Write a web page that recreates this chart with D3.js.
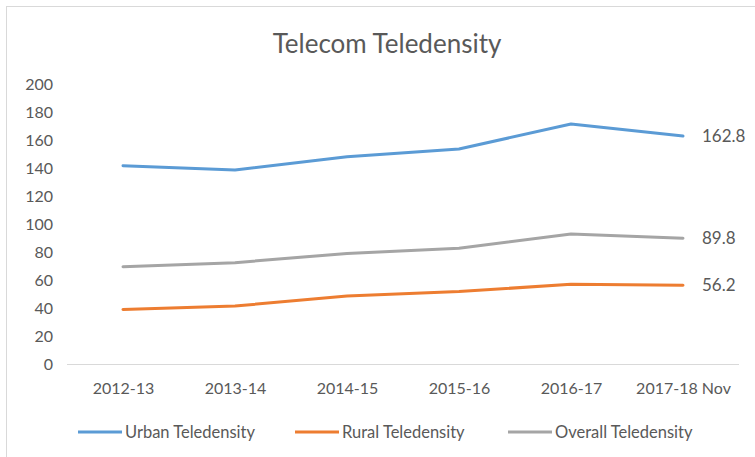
<!DOCTYPE html>
<html><head><meta charset="utf-8">
<script src="https://cdn.jsdelivr.net/npm/d3@7"></script>
<style>body{margin:0;background:#fff;} svg{display:block;font-family:Lato, "Open Sans", sans-serif;}</style>
</head><body><svg id="c" width="755" height="457"></svg>
<script>
const categories = ["2012-13","2013-14","2014-15","2015-16","2016-17","2017-18 Nov"];
const urban = [141.6,138.6,148.0,153.6,171.4,162.8];
const rural = [39.0,41.4,48.6,51.7,57.0,56.2];
const overall = [69.5,72.4,79.0,82.6,92.9,89.8];
const yTicks = [0,20,40,60,80,100,120,140,160,180,200];
const seriesNames = ["Urban Teledensity","Rural Teledensity","Overall Teledensity"];
const seriesColors = ["#5b9bd5","#ed7d31","#a5a5a5"];
const series = [urban, rural, overall];

const svg = d3.select("#c");
svg.append("rect").attr("x",6.5).attr("y",6.5).attr("width",760).attr("height",460)
  .attr("fill","#fff").attr("stroke","#d9d9d9");

const x = d3.scalePoint().domain(categories).range([123,683]);
const y = d3.scaleLinear().domain([0,200]).range([364,84]);

svg.append("text").attr("x",387).attr("y",53).attr("text-anchor","middle")
  .attr("fill","#595959").attr("font-size",26).text("Telecom Teledensity");

// y axis labels
const ya = svg.append("g").attr("transform","translate(53,0)")
  .call(d3.axisLeft(y).tickValues(yTicks).tickSize(0).tickPadding(0));
ya.select(".domain").remove();
ya.selectAll("text").attr("fill","#595959").attr("font-size",16).attr("font-family","Lato, sans-serif");

// x axis
const xa = svg.append("g").attr("transform","translate(0,364)")
  .call(d3.axisBottom(x).tickSize(0).tickPadding(19));
xa.select(".domain").remove();
xa.selectAll("text").attr("fill","#595959").attr("font-size",16).attr("font-family","Lato, sans-serif");
svg.append("line").attr("x1",67).attr("x2",739).attr("y1",364.5).attr("y2",364.5)
  .attr("stroke","#d9d9d9");

const line = d3.line().x((d,i)=>x(categories[i])).y(d=>y(d));
series.forEach((s,k)=>{
  svg.append("path").datum(s).attr("d",line).attr("fill","none")
    .attr("stroke",seriesColors[k]).attr("stroke-width",3).attr("stroke-linejoin","round").attr("stroke-linecap","round");
  const last = s[s.length-1];
  svg.append("text").attr("x",x(categories[categories.length-1])+19).attr("y",y(last)+6)
    .attr("fill","#595959").attr("font-size",17).text(last.toFixed(1));
});

// legend
const legX = [78,295,508];
seriesNames.forEach((n,k)=>{
  const g = svg.append("g").attr("transform",`translate(${legX[k]},432)`);
  g.append("line").attr("x1",0).attr("x2",44).attr("stroke",seriesColors[k]).attr("stroke-width",3);
  g.append("text").attr("x",47).attr("y",6).attr("fill","#595959").attr("font-size",16.5).text(n);
});
</script></body></html>
